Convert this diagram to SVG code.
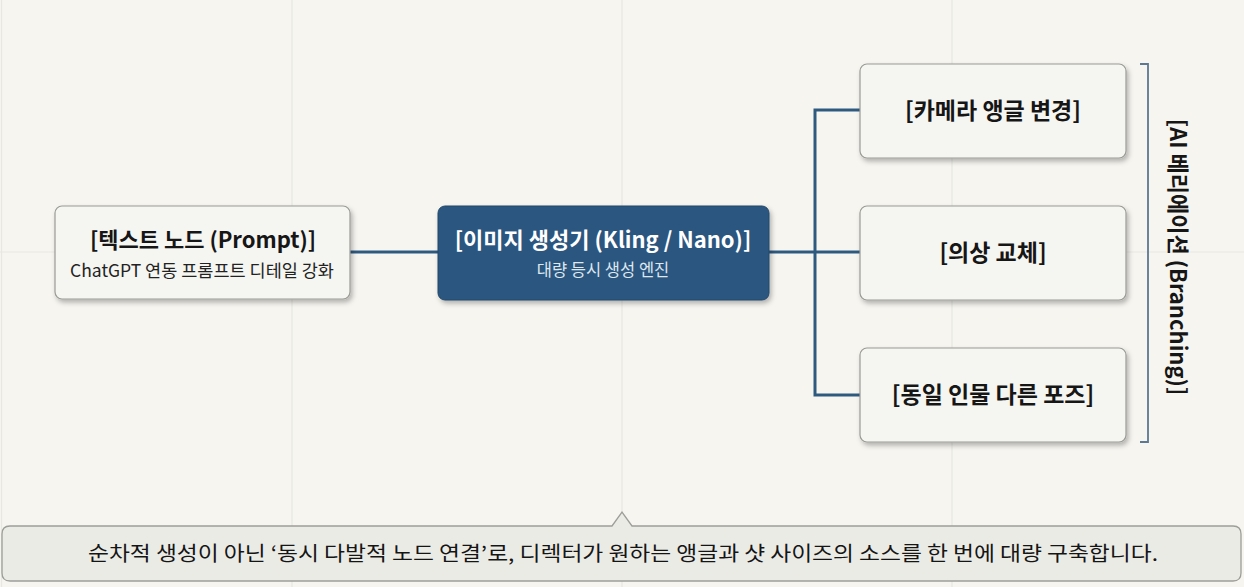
<svg xmlns="http://www.w3.org/2000/svg" width="1244" height="587" viewBox="0 0 1244 587">
  <defs>
    <filter id="sh" x="-10%" y="-20%" width="125%" height="150%">
      <feDropShadow dx="2" dy="3" stdDeviation="2.5" flood-color="#000" flood-opacity="0.28"/>
    </filter>
    <style>
      .bg { fill: #f6f5f0; }
      .grid { stroke: #e8e7e1; stroke-width: 1.2; fill: none; }
      .node { fill: #f5f5f1; stroke: #9a9a96; stroke-width: 1.2; filter: url(#sh); }
      .main { fill: #2b5780; stroke: #24496b; stroke-width: 1; filter: url(#sh); }
      .title { font-family: "Noto Sans CJK KR", "Noto Sans", sans-serif; font-weight: 700; font-size: 22px; fill: #161616; text-anchor: middle; }
      .big { font-size: 23px; }
      .sub { font-family: "Noto Sans CJK KR", "Noto Sans", sans-serif; font-weight: 400; font-size: 17.5px; fill: #222; text-anchor: middle; }
      .wt { fill: #ffffff; }
      .ws { fill: #dfe7ef; font-size: 16.5px; }
      .conn { stroke: #2e5a80; stroke-width: 3; fill: none; }
      .brk { stroke: #5c7893; stroke-width: 1.8; fill: none; }
      .callout { fill: #ebebe6; stroke: #9d9d99; stroke-width: 1.3; }
      .note { font-family: "Noto Sans CJK KR", "Noto Sans", sans-serif; font-weight: 400; font-size: 20px; fill: #151515; text-anchor: middle; }
    </style>
  </defs>

  <rect class="bg" x="0" y="0" width="1244" height="587"/>
  <g id="grid">
    <line class="grid" x1="1.5" y1="0" x2="1.5" y2="587"/>
    <line class="grid" x1="292" y1="0" x2="292" y2="587"/>
    <line class="grid" x1="622" y1="0" x2="622" y2="587"/>
    <line class="grid" x1="952" y1="0" x2="952" y2="587"/>
    <line class="grid" x1="0" y1="252" x2="1244" y2="252"/>
  </g>

  <g id="connectors">
    <line class="conn" x1="350" y1="252" x2="438" y2="252"/>
    <line class="conn" x1="769" y1="252" x2="860" y2="252"/>
    <polyline class="conn" points="860,110 815,110 815,395 860,395"/>
  </g>

  <g id="node-text">
    <rect class="node" x="55" y="206" width="295" height="93" rx="7"/>
    <text class="title" x="203" y="248">[텍스트 노드 (Prompt)]</text>
    <text class="sub" x="202" y="277">ChatGPT 연동 프롬프트 디테일 강화</text>
  </g>

  <g id="node-image">
    <rect class="main" x="438" y="206" width="331" height="94" rx="7"/>
    <text class="title wt" x="603" y="248">[이미지 생성기 (Kling / Nano)]</text>
    <text class="sub ws" x="603" y="276">대량 등시 생성 엔진</text>
  </g>

  <g id="node-camera">
    <rect class="node" x="860" y="64" width="266" height="94" rx="7"/>
    <text class="title big" x="993" y="119">[카메라 앵글 변경]</text>
  </g>

  <g id="node-costume">
    <rect class="node" x="860" y="206" width="266" height="94" rx="7"/>
    <text class="title big" x="993" y="261">[의상 교체]</text>
  </g>

  <g id="node-pose">
    <rect class="node" x="860" y="348" width="266" height="94" rx="7"/>
    <text class="title big" x="993" y="403">[동일 인물 다른 포즈]</text>
  </g>

  <g id="branch-label">
    <polyline class="brk" points="1140,64 1148,64 1148,442 1140,442"/>
    <text class="title" transform="translate(1170,257) rotate(90)" x="0" y="0">[AI 베리에이션 (Branching)]</text>
  </g>

  <g id="note">
    <path class="callout" d="M10,526 L612,526 L622,512 L632,526 L1233,526 Q1241,526 1241,534 L1241,573 Q1241,581 1233,581 L10,581 Q2,581 2,573 L2,534 Q2,526 10,526 Z"/>
    <text class="note" x="623" y="561" textLength="1070" lengthAdjust="spacingAndGlyphs">순차적 생성이 아닌 ‘동시 다발적 노드 연결’로, 디렉터가 원하는 앵글과 샷 사이즈의 소스를 한 번에 대량 구축합니다.</text>
  </g>
</svg>
